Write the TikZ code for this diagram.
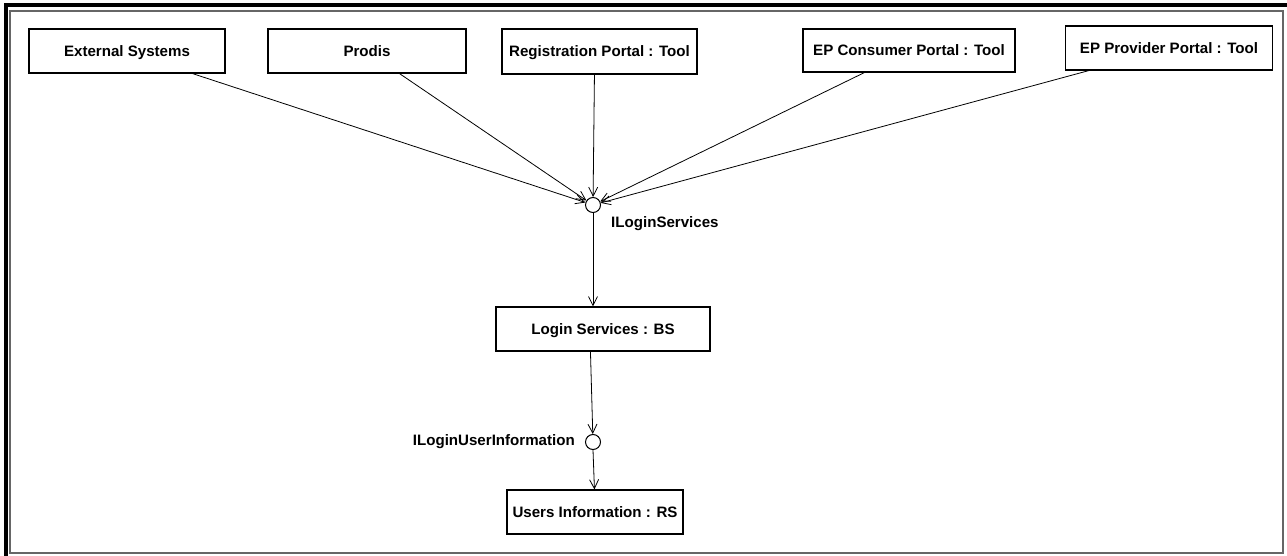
\documentclass[tikz,border=0pt]{standalone}
\usepackage{fontspec}
\setmainfont{Liberation Sans}
\usetikzlibrary{arrows.meta,calc}
\tikzset{
  txt/.style={font=\bfseries\fontsize{15.1}{18}\selectfont, text height=10.8pt, text depth=0pt},
  comp/.style={txt, draw, line width=1.1pt, fill=white, inner sep=0pt},
  iface/.style={draw, line width=1pt, circle, minimum size=15pt, inner sep=0pt, fill=white},
  lbl/.style={txt, inner sep=0pt},
  dep/.style={line width=0.8pt, -{Straight Barb[length=9pt,width=9pt,line width=0.8pt]}},
}
\begin{document}
\begin{tikzpicture}[x=1pt,y=-1pt]
  \useasboundingbox (0,0) rectangle (1287,556);
  % frame
  \draw[line width=4.5pt] (6,556) -- (6,5) -- (1287,5);
  \draw[line width=1.4pt, black!60] (10,11) rectangle (1283,553);

  % components
  \node[comp, minimum width=196pt, minimum height=44pt] (ext)   at (127,51)    {External Systems};
  \node[comp, minimum width=198pt, minimum height=44pt] (prodis) at (367,51)   {Prodis};
  \node[comp, minimum width=195pt, minimum height=45pt] (reg)   at (599.5,51.5) {Registration Portal : Tool};
  \node[comp, minimum width=212pt, minimum height=43pt] (cons)  at (909,50.5)  {EP Consumer Portal : Tool};
  \node[comp, minimum width=207pt, minimum height=44pt] (prov)  at (1169,48)   {EP Provider Portal : Tool};
  \node[comp, minimum width=214pt, minimum height=44pt] (login) at (603,329)   {Login Services : BS};
  \node[comp, minimum width=176pt, minimum height=44pt] (users) at (595,512)   {Users Information : RS};

  % interfaces
  \node[iface] (ils)  at (593,205) {};
  \node[iface] (ilui) at (593,442) {};
  \node[lbl, anchor=west] (ilsl)  at (611,222) {ILoginServices};
  \node[lbl, anchor=east] (iluil) at (575,440) {ILoginUserInformation};

  % dependencies
  \coordinate (extb)   at ($(ext.south west)+(164,0)$);
  \coordinate (prodb)  at ($(prodis.south west)+(132,0)$);
  \coordinate (regb)   at ($(reg.south west)+(93,0)$);
  \coordinate (consb)  at ($(cons.south west)+(62,0)$);
  \coordinate (provb)  at ($(prov.south west)+(24,0)$);
  \coordinate (loginb) at ($(login.south west)+(95,0)$);
  \coordinate (usert)  at ($(users.north west)+(88,0)$);

  \draw[dep] (extb)  -- (ils);
  \draw[dep] (prodb) -- (ils);
  \draw[dep] (regb)  -- (ils);
  \draw[dep] (consb) -- (ils);
  \draw[dep] (provb) -- (ils);
  \draw[dep] (ils.south) -- (ils.south |- login.north);
  \draw[dep] (loginb) -- (ilui);
  \draw[dep] (ilui.south) -- (usert);
\end{tikzpicture}
\end{document}
